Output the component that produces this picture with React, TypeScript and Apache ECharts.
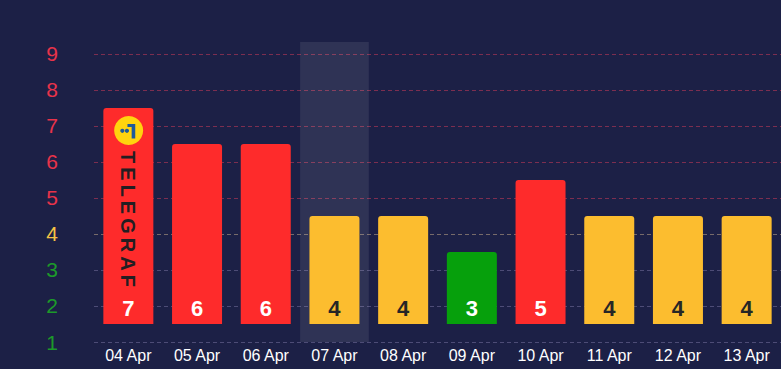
import React, { useEffect, useRef } from "react";
import * as echarts from "echarts";

const CATEGORIES = ["04 Apr", "05 Apr", "06 Apr", "07 Apr", "08 Apr", "09 Apr", "10 Apr", "11 Apr", "12 Apr", "13 Apr"];
const VALUES = [7, 6, 6, 4, 4, 3, 5, 4, 4, 4];
const HIGHLIGHT_INDEX = 3;
const Y_TICKS = [1, 2, 3, 4, 5, 6, 7, 8, 9];
const BAR_BASE = 1.5;
const BRAND = "TELEGRAF";

const RED = "#fe2b2b";
const YELLOW = "#fcbd2f";
const GREEN = "#06a00c";
const FONT = "'Liberation Sans', Arial, sans-serif";

const levelColor = (v: number) => (v >= 5 ? RED : v >= 4 ? YELLOW : GREEN);
const labelColor = (v: number) => (v >= 5 ? "#e8334a" : v >= 4 ? "#f5c244" : "#1c9a2a");
const gridColor = (v: number) =>
  v >= 5 ? "rgba(220,60,90,0.5)" : v >= 4 ? "rgba(230,200,150,0.45)" : "rgba(170,160,210,0.35)";

export default function App() {
  const ref = useRef<HTMLDivElement>(null);
  useEffect(() => {
    if (!ref.current) return;
    document.body.style.margin = "0";
    document.body.style.background = "#1c2046";
    const chart = echarts.init(ref.current, null, { renderer: "svg" });
    const option: any = {
      animation: false,
      backgroundColor: "#1c2046",
      grid: { left: 94, right: -1, top: 42, bottom: 27 },
      tooltip: {
        trigger: "axis",
        triggerOn: "none",
        showContent: false,
        axisPointer: { type: "shadow", z: 0, shadowStyle: { color: "rgba(255,255,255,0.085)" } },
      },
      xAxis: {
        type: "category",
        data: CATEGORIES,
        axisLine: { show: false },
        axisTick: { show: false },
        axisPointer: { z: 0 },
        axisLabel: { color: "#ffffff", fontSize: 16, fontFamily: FONT, margin: 5, interval: 0 },
      },
      yAxis: {
        type: "value",
        min: Y_TICKS[0],
        max: 9.333,
        interval: 1,
        axisLine: { show: false },
        axisTick: { show: false },
        axisLabel: {
          fontSize: 21,
          fontFamily: FONT,
          margin: 36,
          showMaxLabel: false,
          color: (v: any) => labelColor(Number(v)),
          formatter: (v: number) => (Number.isInteger(v) ? String(v) : ""),
        },
        splitLine: {
          show: true,
          showMaxLine: false,
          lineStyle: { color: Y_TICKS.map(gridColor), type: [4, 3], width: 1 },
        },
      },
      series: [
        {
          type: "bar",
          stack: "s",
          barWidth: 50,
          z: 5,
          itemStyle: { color: "transparent" },
          emphasis: { disabled: true },
          data: VALUES.map(() => BAR_BASE),
          silent: true,
        },
        {
          type: "bar",
          stack: "s",
          barWidth: 50,
          z: 5,
          emphasis: { disabled: true },
          data: VALUES.map((v) => ({
            value: v + 0.5 - BAR_BASE,
            itemStyle: { color: levelColor(v), borderRadius: [3, 3, 0, 0] },
            label: { color: v === 4 ? "#262626" : "#ffffff" },
          })),
          label: {
            show: true,
            position: "insideBottom",
            distance: 4,
            fontSize: 22,
            fontWeight: "bold",
            fontFamily: FONT,
            formatter: (p: any) => String(VALUES[p.dataIndex]),
          },
        },
      ],
    };
    chart.setOption(option);
    chart.dispatchAction({ type: "showTip", seriesIndex: 1, dataIndex: HIGHLIGHT_INDEX });

    const pt = chart.convertToPixel({ gridIndex: 0 }, [CATEGORIES[0], VALUES[0] + 0.5]) as number[];
    const cx = pt[0] + 0.3;
    const top = pt[1];
    const ccx = cx;
    const ccy = top + 22.5;
    const blue = "#1d5a9c";
    chart.setOption({
      graphic: [
        { type: "circle", shape: { cx: ccx, cy: ccy, r: 14.5 }, style: { fill: "#ffd40e" }, z: 100 },
        { type: "circle", shape: { cx: ccx - 6.3, cy: ccy + 0.3, r: 2.1 }, style: { fill: blue }, z: 101 },
        { type: "circle", shape: { cx: ccx - 1.7, cy: ccy + 0.3, r: 2.1 }, style: { fill: blue }, z: 101 },
        { type: "rect", shape: { x: ccx + 3, y: ccy - 6.5, width: 3.6, height: 14.5 }, style: { fill: blue }, z: 101 },
        { type: "rect", shape: { x: ccx - 1.2, y: ccy - 6.5, width: 4.5, height: 3 }, style: { fill: blue }, z: 101 },
        {
          type: "text",
          x: cx - 0.3,
          y: top + 111,
          rotation: -Math.PI / 2,
          z: 101,
          style: {
            text: BRAND.split("").join("\u2009"),
            fill: "#231e22",
            fontSize: 20,
            fontWeight: "bold",
            fontFamily: FONT,
            align: "center",
            verticalAlign: "middle",
          },
        },
      ],
    });
    return () => chart.dispose();
  }, []);
  return (
    <div style={{ position: "fixed", left: 0, top: 0, width: 781, height: 369, background: "#1c2046" }}>
      <div ref={ref} style={{ width: 781, height: 369 }} />
    </div>
  );
}
